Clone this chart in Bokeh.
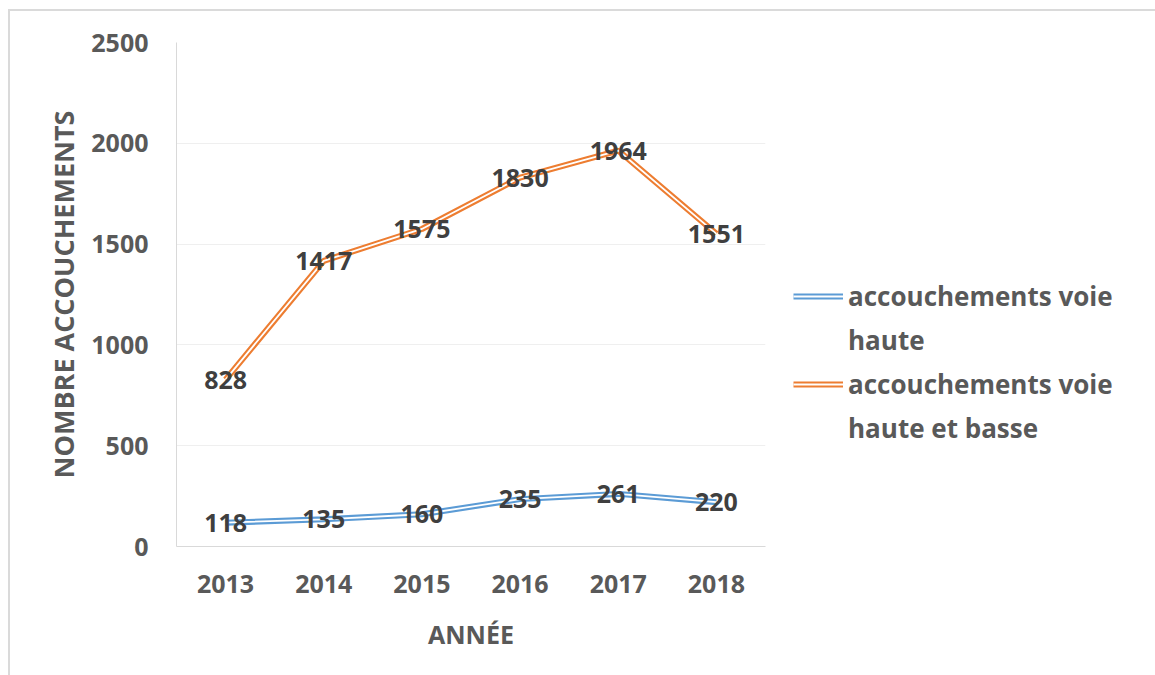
from bokeh.plotting import figure
from bokeh.models import ColumnDataSource, Legend, LegendItem, FactorRange, Range1d, SingleIntervalTicker
from bokeh.core.properties import value
from bokeh.embed import file_html
from bokeh.resources import INLINE

years = ["2013", "2014", "2015", "2016", "2017", "2018"]
voie_haute = [118, 135, 160, 235, 261, 220]
voie_haute_basse = [828, 1417, 1575, 1830, 1964, 1551]
series_names = [("accouchements voie", "haute"), ("accouchements voie", "haute et basse")]
series_colors = ["#5B9BD5", "#ED7D31"]

FONT = "Open Sans"
GRAY = "#595959"

p = figure(
    frame_width=589, frame_height=504,
    x_range=FactorRange(factors=years),
    y_range=Range1d(0, 2500),
    output_backend="svg", toolbar_location=None,
    min_border_left=166, min_border_right=10, min_border_top=31, min_border_bottom=129,
    background_fill_color="white", border_fill_color="white",
)
p.styles = {"margin-left": "8px", "margin-top": "9px",
            "border-top": "2px solid #dadada", "border-left": "2px solid #dadada"}
p.outline_line_color = None

# axes
p.yaxis.ticker = SingleIntervalTicker(interval=500)
for ax in (p.xaxis[0], p.yaxis[0]):
    ax.major_tick_line_color = None
    ax.minor_tick_line_color = None
    ax.axis_line_color = "#d9d9d9"
    ax.major_label_text_font = FONT
    ax.major_label_text_font_size = "25px"
    ax.major_label_text_font_style = "bold"
    ax.major_label_text_color = GRAY
    ax.axis_label_text_font = FONT
    ax.axis_label_text_font_size = "25px"
    ax.axis_label_text_font_style = "bold"
    ax.axis_label_text_color = GRAY
p.yaxis.axis_label_text_font_size = "27px"
p.yaxis.axis_label = "NOMBRE ACCOUCHEMENTS"
p.xaxis.axis_label = "ANNÉE"
p.yaxis.major_label_standoff = 22
p.xaxis.major_label_standoff = 22
p.yaxis.axis_label_standoff = 6
p.xaxis.axis_label_standoff = 21
p.xgrid.grid_line_color = None
p.ygrid.grid_line_color = "#efefef"
p.ygrid.grid_line_width = 1

items = []
for vals, (line1, line2), col in zip([voie_haute, voie_haute_basse], series_names, series_colors):
    src = ColumnDataSource(dict(x=years, y=vals, lbl=[str(v) for v in vals]))
    r1 = p.line("x", "y", source=src, line_color=col, line_width=6)
    r2 = p.line("x", "y", source=src, line_color="white", line_width=1.8)
    # second line of the wrapped legend label (no glyph of its own)
    r_blank = p.line(x=[], y=[], line_alpha=0)
    items.append(LegendItem(label=line1, renderers=[r1, r2]))
    items.append(LegendItem(label=line2, renderers=[r_blank]))
    p.text("x", "y", text="lbl", source=src, text_align="center", text_baseline="middle",
           text_font=value(FONT), text_font_size="25px", text_font_style="bold",
           text_color="#3f3f3f")

legend = Legend(items=items, location=(28, 100), orientation="vertical",
                glyph_width=50, glyph_height=10, label_standoff=5, spacing=8,
                label_text_font=FONT, label_text_font_size="26px", label_text_font_style="bold",
                label_text_color=GRAY, border_line_color=None, background_fill_alpha=0,
                padding=0, margin=0)
p.add_layout(legend, "right")

open("out.html", "w").write(file_html(p, INLINE))
